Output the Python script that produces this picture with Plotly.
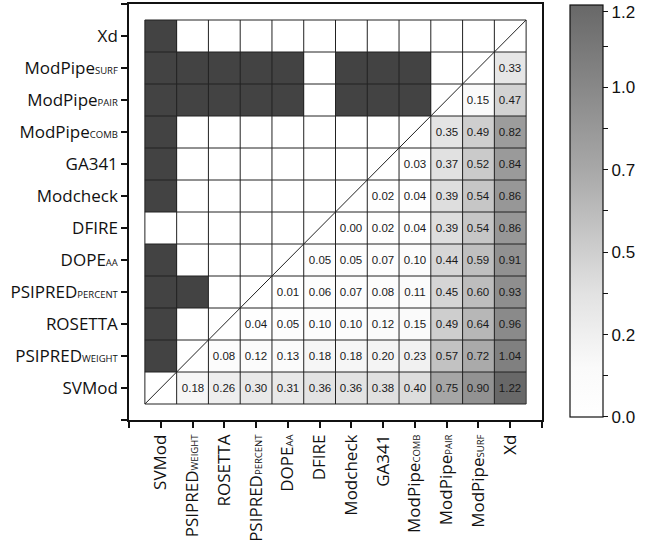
import plotly.graph_objects as go

SMALL = "<span style=\"font-size:9.5px\">{}</span>"
methods = ["SVMod", "PSIPRED" + SMALL.format("WEIGHT"), "ROSETTA",
           "PSIPRED" + SMALL.format("PERCENT"), "DOPE" + SMALL.format("AA"), "DFIRE",
           "Modcheck", "GA341", "ModPipe" + SMALL.format("COMB"),
           "ModPipe" + SMALL.format("PAIR"), "ModPipe" + SMALL.format("SURF"), "Xd"]

# values right of the diagonal (row i, columns i+1 .. 11)
diff_rows = [
    [0.18, 0.26, 0.30, 0.31, 0.36, 0.36, 0.38, 0.40, 0.75, 0.90, 1.22],
    [0.08, 0.12, 0.13, 0.18, 0.18, 0.20, 0.23, 0.57, 0.72, 1.04],
    [0.04, 0.05, 0.10, 0.10, 0.12, 0.15, 0.49, 0.64, 0.96],
    [0.01, 0.06, 0.07, 0.08, 0.11, 0.45, 0.60, 0.93],
    [0.05, 0.05, 0.07, 0.10, 0.44, 0.59, 0.91],
    [0.00, 0.02, 0.04, 0.39, 0.54, 0.86],
    [0.02, 0.04, 0.39, 0.54, 0.86],
    [0.03, 0.37, 0.52, 0.84],
    [0.35, 0.49, 0.82],
    [0.15, 0.47],
    [0.33],
    [],
]

# significance left of the diagonal (row i, columns 0 .. i-1)
sig_rows = [
    [],
    [1],
    [1, 0],
    [1, 1, 0],
    [1, 0, 0, 0],
    [0, 0, 0, 0, 0],
    [1, 0, 0, 0, 0, 0],
    [1, 0, 0, 0, 0, 0, 0],
    [1, 0, 0, 0, 0, 0, 0, 0],
    [1, 1, 1, 1, 1, 0, 1, 1, 1],
    [1, 1, 1, 1, 1, 0, 1, 1, 1, 0],
    [1, 0, 0, 0, 0, 0, 0, 0, 0, 0, 0],
]

cbar_ticks = [0.0, 0.122, 0.244, 0.366, 0.488, 0.61, 0.732, 0.854, 0.976, 1.098, 1.2]
cbar_text = ["0.0", "", "0.2", "", "0.5", "", "0.7", "", "1.0", "", "1.2"]

n = len(methods)
idx = list(range(n))

z_val = [[None] * n for _ in range(n)]
t_val = [[""] * n for _ in range(n)]
z_sig = [[None] * n for _ in range(n)]
for i in range(n):
    for k, v in enumerate(diff_rows[i]):
        j = i + 1 + k
        z_val[i][j] = v
        t_val[i][j] = f"{v:.2f}"
    for j, s in enumerate(sig_rows[i]):
        z_sig[i][j] = s

fig = go.Figure()
fig.add_trace(go.Heatmap(
    x=idx, y=idx, z=z_sig, zmin=0, zmax=1,
    colorscale=[[0, "#ffffff"], [1, "#434343"]], showscale=False, hoverinfo="skip"))
fig.add_trace(go.Heatmap(
    x=idx, y=idx, z=z_val, zmin=0, zmax=1.22, text=t_val, texttemplate="%{text}",
    textfont=dict(size=11.5, color="#1a1a1a", family="Liberation Sans, Arial"),
    colorscale=[[0, "#ffffff"], [0.12, "#fafafa"], [0.3, "#e2e2e2"],
                [0.6, "#a8a8a8"], [1, "#686868"]],
    colorbar=dict(x=1.068, xanchor="left", y=0.9976, yanchor="top", len=0.99,
                  lenmode="fraction", thickness=33, outlinecolor="#111", outlinewidth=1.2,
                  xpad=0, ypad=0, ticklabeloverflow="allow",
                  tickmode="array", tickvals=cbar_ticks, ticktext=cbar_text,
                  ticks="outside", ticklen=5, tickcolor="#111",
                  tickfont=dict(size=17, family="Liberation Sans, Arial", color="#111")),
    hoverinfo="skip"))

shapes = []
lo, hi = -0.5, n - 0.5
for k in range(n + 1):
    p = k - 0.5
    shapes.append(dict(type="line", x0=p, x1=p, y0=lo, y1=hi, line=dict(color="#222", width=1)))
    shapes.append(dict(type="line", x0=lo, x1=hi, y0=p, y1=p, line=dict(color="#222", width=1)))
shapes.append(dict(type="line", x0=lo, x1=hi, y0=lo, y1=hi, line=dict(color="#222", width=1)))

tickvals = [-1] + idx + [n]
ticktext = [""] + methods + [""]
axis_common = dict(range=[-1, n], tickmode="array", tickvals=tickvals, ticktext=ticktext,
                   ticks="outside", ticklen=6, tickcolor="#111", tickwidth=1.5,
                   showline=True, linecolor="#111", linewidth=1.5, mirror=True,
                   showgrid=False, zeroline=False, automargin=False,
                   tickfont=dict(size=17, family="Open Sans", color="#111"))

fig.update_layout(
    width=655, height=547, margin=dict(l=129, r=113, t=4, b=127),
    paper_bgcolor="white", plot_bgcolor="white", shapes=shapes,
    xaxis=dict(axis_common, tickangle=-90),
    yaxis=dict(axis_common),
)
fig.write_html("out.html", config={"displayModeBar": False},
               post_script="document.body.style.margin='0px';")
